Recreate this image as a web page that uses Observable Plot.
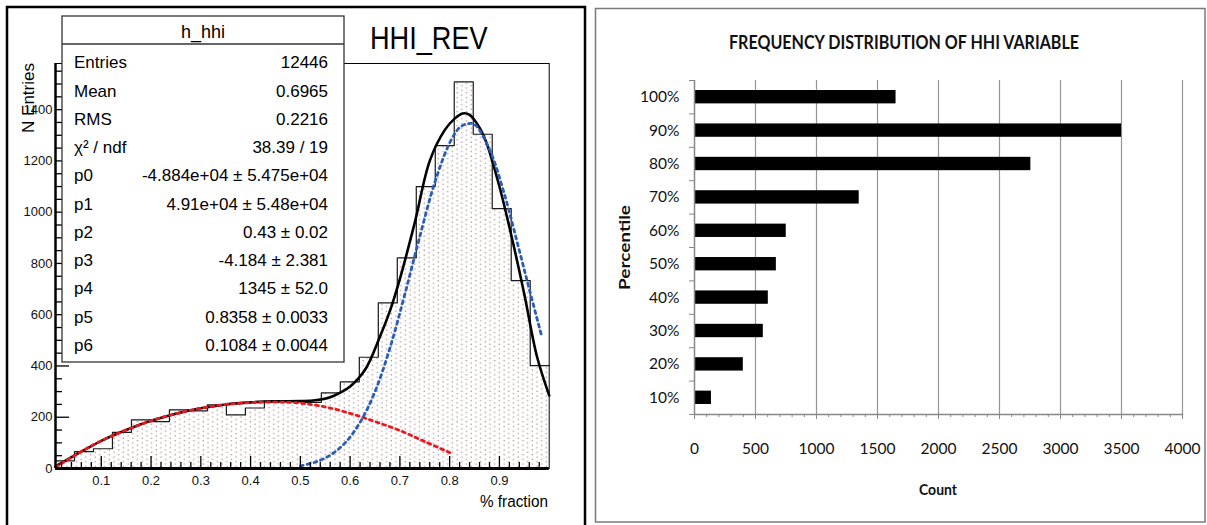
<!DOCTYPE html>
<html><head><meta charset="utf-8">
<script src="https://cdn.jsdelivr.net/npm/d3@7"></script>
<script src="https://cdn.jsdelivr.net/npm/@observablehq/plot@0.6"></script>
<style>
html,body{margin:0;padding:0;background:#fff;}
#page{position:relative;width:1207px;height:525px;overflow:hidden;background:#fff;}
#left{position:absolute;left:0;top:0;width:590px;height:525px;}
#right{position:absolute;left:595px;top:0;width:612px;height:525px;}
#overlay{position:absolute;left:0;top:0;pointer-events:none;}
#left svg text, #right svg text { font-size: var(--lblsize) !important; fill: #111; }
#left { --lblsize: 13px; }
#right { --lblsize: 15.5px; }
</style></head>
<body><div id="page"><div id="left"></div><div id="right"></div><svg id="overlay" width="1207" height="525" xmlns="http://www.w3.org/2000/svg"></svg></div>
<script>
// ---------- LEFT PANEL DATA (ROOT histogram h_hhi) ----------
const histCounts = [30, 66, 77, 141, 190, 183, 229, 225, 248, 209, 236, 262, 262, 258, 295, 338, 434, 646, 822, 1100, 1260, 1508, 1304, 1014, 733, 401];
const histMin = 0.008, histMax = 1.0;
const totalFitX = [0.008,0.05,0.10,0.15,0.20,0.25,0.30,0.35,0.40,0.45,0.50,0.53,0.56,0.58,0.60,0.63,0.66,0.68,0.70,0.73,0.76,0.79,0.81,0.826,0.84,0.86,0.875,0.90,0.925,0.95,0.975,1.00];
const totalFitY = [8,55,108,150,186,214,235,250,258,262,263,266,278,296,320,385,515,615,740,960,1200,1320,1365,1385,1380,1330,1265,1100,900,680,440,285];
const bkgFitX = [0.008,0.05,0.10,0.15,0.20,0.25,0.30,0.35,0.40,0.45,0.50,0.55,0.60,0.65,0.70,0.75,0.80];
const bkgFitY = [5,55,108,150,186,214,235,250,257,259,255,240,215,183,148,105,62];
const sigFitX = [0.50,0.53,0.56,0.59,0.62,0.65,0.68,0.71,0.74,0.77,0.80,0.82,0.836,0.85,0.88,0.91,0.94,0.96,0.985];
const sigFitY = [10,25,52,100,180,300,470,680,905,1115,1270,1330,1345,1342,1245,1070,850,700,515];
const xTickLabels = [0.1,0.2,0.3,0.4,0.5,0.6,0.7,0.8,0.9];
const yTickLabels = [0,200,400,600,800,1000,1200,1400];
const statLabels = ["Entries","Mean","RMS","χ² / ndf","p0","p1","p2","p3","p4","p5","p6"];
const statValues = ["12446","0.6965","0.2216","38.39 / 19","-4.884e+04 ± 5.475e+04","4.91e+04 ± 5.48e+04","0.43 ± 0.02","-4.184 ± 2.381","1345 ± 52.0","0.8358 ± 0.0033","0.1084 ± 0.0044"];

// ---------- RIGHT PANEL DATA ----------
const pctCategories = ["100%","90%","80%","70%","60%","50%","40%","30%","20%","10%"];
const pctCounts = [1652, 3501, 2757, 1350, 752, 671, 605, 564, 400, 139];
const countTicks = [0,500,1000,1500,2000,2500,3000,3500,4000];

// ---------- build tables ----------
const binW = (histMax - histMin) / histCounts.length;
const bins = histCounts.map((c, i) => ({x1: histMin + i * binW, x2: histMin + (i + 1) * binW, count: c}));
const stepPts = bins.map(b => ({x: b.x1, y: b.count})).concat([{x: histMax, y: histCounts[histCounts.length - 1]}]);
const totalFit = totalFitX.map((x, i) => ({x, y: totalFitY[i]}));
const bkgFit = bkgFitX.map((x, i) => ({x, y: bkgFitY[i]}));
const sigFit = sigFitX.map((x, i) => ({x, y: sigFitY[i]}));
const xMinor = d3.range(1, 50).map(i => i / 50).filter(v => Math.abs(v * 10 - Math.round(v * 10)) > 1e-6);
const yMinor = d3.range(50, 1580, 50).filter(v => v % 200 !== 0);
const pctData = pctCategories.map((p, i) => ({pct: p, count: pctCounts[i]}));
const countMinor = d3.range(0, 4001, 100);

const LFONT = "'Liberation Sans', Arial, Helvetica, sans-serif";
const RFONT = "Lato, 'Liberation Sans', Arial, sans-serif";

// ---------- LEFT PLOT ----------
const leftPlot = Plot.plot({
  width: 590, height: 525,
  marginLeft: 55, marginRight: 41.3, marginTop: 63, marginBottom: 57,
  x: {domain: [histMin, histMax]},
  y: {domain: [0, 1580]},
  style: {background: "transparent", fontFamily: LFONT, color: "#000"},
  marks: [
    Plot.rectY(bins, {x1: "x1", x2: "x2", y: "count", fill: "url(#rootDots)"}),
    Plot.line(stepPts, {x: "x", y: "y", curve: "step-after", stroke: "#1a1a1a", strokeWidth: 1.2}),
    Plot.line(totalFit, {x: "x", y: "y", curve: "catmull-rom", stroke: "#000", strokeWidth: 2.6}),
    Plot.line(bkgFit, {x: "x", y: "y", curve: "catmull-rom", stroke: "#e8191f", strokeWidth: 2.8, strokeDasharray: "3,4"}),
    Plot.line(sigFit, {x: "x", y: "y", curve: "catmull-rom", stroke: "#2b5cb6", strokeWidth: 2.8, strokeDasharray: "3,4"}),
    Plot.frame({stroke: "#000", strokeWidth: 1}),
    Plot.ruleX(xMinor, {x: d => d, y1: 0, y2: 0, insetBottom: 6, stroke: "#000", strokeWidth: 1.3}),
    Plot.ruleX(xTickLabels, {x: d => d, y1: 0, y2: 0, insetBottom: 12, stroke: "#000", strokeWidth: 1.3}),
    Plot.ruleY(yMinor, {y: d => d, x1: histMin, x2: histMin, insetRight: -7, stroke: "#000", strokeWidth: 1.3}),
    Plot.ruleY(yTickLabels, {y: d => d, x1: histMin, x2: histMin, insetRight: -14, stroke: "#000", strokeWidth: 1.3}),
    Plot.ruleY([0], {stroke: "#000", strokeWidth: 3}),
    Plot.ruleX([histMin], {stroke: "#000", strokeWidth: 2.5}),
    Plot.axisX({ticks: xTickLabels, tickSize: 0, tickPadding: 7, tickFormat: d => String(d), label: null}),
    Plot.axisY({ticks: yTickLabels, tickSize: 0, tickPadding: 3, tickFormat: d => String(d), label: null})
  ]
});
const NS = "http://www.w3.org/2000/svg";
const defs = document.createElementNS(NS, "defs");
defs.innerHTML = '<pattern id="rootDots" width="9.4" height="4.7" patternUnits="userSpaceOnUse"><rect width="9.4" height="4.7" fill="#ffffff"/><circle cx="1.2" cy="1.2" r="0.75" fill="#b08686"/><circle cx="5.9" cy="3.55" r="0.75" fill="#b08686"/></pattern>';
leftPlot.insertBefore(defs, leftPlot.firstChild);
document.getElementById("left").appendChild(leftPlot);

// ---------- RIGHT PLOT ----------
const rTop = 80, rBottom = 111, rH = 525;
const step = (rH - rTop - rBottom) / pctCategories.length;
const rightPlot = Plot.plot({
  width: 612, height: 525,
  marginLeft: 99, marginRight: 25, marginTop: rTop, marginBottom: rBottom,
  x: {domain: [0, 4000]},
  y: {domain: pctCategories, paddingInner: 0.6, paddingOuter: 0.3, round: false},
  style: {background: "transparent", fontFamily: RFONT, color: "#1a1a1a"},
  marks: [
    Plot.ruleX(countTicks.slice(1), {stroke: "#969696", strokeWidth: 1.2}),
    Plot.barX(pctData, {x: "count", y: "pct", fill: "#000"}),
    Plot.ruleX([0], {stroke: "#888", strokeWidth: 1.5}),
    Plot.frame({anchor: "bottom", stroke: "#888", strokeWidth: 1.5}),
    Plot.axisX({ticks: countTicks, tickSize: 5, tickFormat: () => "", stroke: "#888", label: null}),
    Plot.axisX({ticks: countMinor, tickSize: 3, tickFormat: () => "", stroke: "#888", label: null}),
    Plot.axisX({ticks: countTicks, tickSize: 0, tickPadding: 28, tickFormat: d => String(d), label: null}),
    Plot.axisY({tickSize: 5, tickFormat: () => "", dy: -step / 2, stroke: "#888", label: null}),
    Plot.axisY(["10%"], {tickSize: 5, tickFormat: () => "", dy: step / 2, stroke: "#888", label: null}),
    Plot.axisY({tickSize: 0, tickPadding: 15, label: null})
  ]
});
document.getElementById("right").appendChild(rightPlot);

// ---------- OVERLAY: frames, stats box, titles ----------
const ov = document.getElementById("overlay");
function el(tag, attrs, parent) {
  const e = document.createElementNS(NS, tag);
  for (const k in attrs) e.setAttribute(k, attrs[k]);
  (parent || ov).appendChild(e);
  return e;
}
function txt(o) {
  const t = el("text", {
    "font-family": o.font || LFONT, "font-size": o.size, "font-weight": o.weight || "normal",
    "text-anchor": o.anchor || "start", fill: o.fill || "#000",
    transform: `translate(${o.x},${o.y})` + (o.rotate ? ` rotate(${o.rotate})` : "") + (o.sx ? ` scale(${o.sx},1)` : "")
  });
  if (o.len) { t.setAttribute("textLength", o.len); t.setAttribute("lengthAdjust", "spacingAndGlyphs"); }
  t.textContent = o.text;
  return t;
}
el("rect", {x: 7, y: 7, width: 578, height: 540, fill: "none", stroke: "#000", "stroke-width": 2.5});
el("rect", {x: 595.5, y: 8.5, width: 609.5, height: 513.5, fill: "none", stroke: "#7a7a7a", "stroke-width": 1.5});
txt({text: "HHI_REV", x: 370, y: 49, size: 30.5, sx: 0.89});
txt({text: "N Entries", x: 34, y: 63, size: 17, anchor: "end", rotate: -90});
txt({text: "% fraction", x: 548, y: 507, size: 17, anchor: "end", sx: 0.9});
el("rect", {x: 62, y: 16, width: 282, height: 346, fill: "#fff", stroke: "#333", "stroke-width": 1.3});
el("line", {x1: 62, y1: 44, x2: 344, y2: 44, stroke: "#333", "stroke-width": 1.3});
txt({text: "h_hhi", x: 203, y: 38, size: 18, anchor: "middle"});
statLabels.forEach((lab, i) => {
  const y = 68.3 + i * 28.25;
  txt({text: lab, x: 74, y, size: 17});
  txt({text: statValues[i], x: 328, y, size: 17, anchor: "end"});
});
txt({text: "FREQUENCY DISTRIBUTION OF HHI VARIABLE", x: 729, y: 49, size: 18, weight: "bold", font: RFONT, len: 350, fill: "#111"});
txt({text: "Percentile", x: 630, y: 290, size: 15, weight: "bold", font: RFONT, rotate: -90, len: 85, fill: "#111"});
txt({text: "Count", x: 919, y: 495, size: 16, weight: "bold", font: RFONT, len: 38, fill: "#111"});
</script>
</body></html>
